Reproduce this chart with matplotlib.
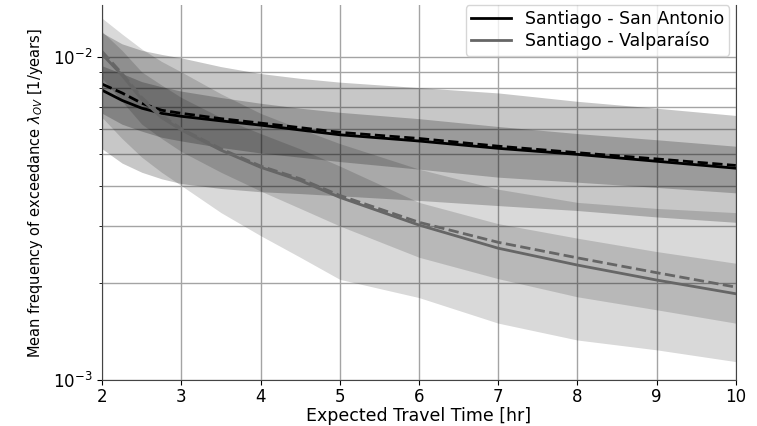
import matplotlib
matplotlib.use('Agg')
import matplotlib.pyplot as plt
import numpy as np

# expected travel time [hr]
t = np.array([2, 2.25, 2.5, 2.75, 3, 3.5, 4, 4.5, 5, 6, 7, 8, 9, 10])

# Santiago - San Antonio (values x 1e-3)
sa_mean = np.array([7.9, 7.35, 6.95, 6.7, 6.56, 6.35, 6.16, 5.95, 5.75, 5.5, 5.22, 5.0, 4.76, 4.53])
sa_dash = np.array([8.25, 7.75, 7.2, 6.85, 6.7, 6.45, 6.25, 6.05, 5.85, 5.6, 5.3, 5.06, 4.84, 4.62])
sa_in_up = np.array([9.4, 8.9, 8.4, 8.1, 7.85, 7.5, 7.2, 6.95, 6.75, 6.45, 6.1, 5.8, 5.55, 5.3])
sa_in_lo = np.array([6.7, 6.2, 5.9, 5.65, 5.5, 5.25, 5.05, 4.9, 4.75, 4.5, 4.25, 4.1, 3.95, 3.8])
sa_out_up = np.array([11.9, 11.0, 10.5, 10.2, 9.95, 9.35, 8.9, 8.6, 8.37, 8.05, 7.75, 7.3, 6.95, 6.6])
sa_out_lo = np.array([5.2, 4.7, 4.4, 4.2, 4.06, 3.92, 3.83, 3.78, 3.72, 3.6, 3.47, 3.35, 3.2, 3.08])

# Santiago - Valparaiso (values x 1e-3)
v_mean = np.array([10.2, 8.8, 7.4, 6.5, 5.95, 5.15, 4.56, 4.15, 3.68, 3.02, 2.56, 2.27, 2.04, 1.85])
v_dash = np.array([10.4, 8.9, 7.5, 6.6, 6.0, 5.2, 4.6, 4.2, 3.73, 3.08, 2.67, 2.39, 2.15, 1.94])
v_in_up = np.array([12.0, 10.5, 9.0, 8.2, 7.5, 6.5, 5.8, 5.2, 4.6, 3.55, 3.05, 2.75, 2.5, 2.3])
v_in_lo = np.array([8.6, 7.3, 6.2, 5.6, 5.1, 4.4, 3.85, 3.4, 3.0, 2.4, 2.06, 1.81, 1.65, 1.5])
v_out_up = np.array([13.2, 11.8, 10.6, 9.7, 9.0, 7.7, 6.7, 6.0, 5.4, 4.5, 3.9, 3.55, 3.4, 3.3])
v_out_lo = np.array([6.5, 5.6, 4.9, 4.4, 4.0, 3.3, 2.8, 2.4, 2.05, 1.8, 1.5, 1.33, 1.24, 1.14])

sc = 1e-3

fig = plt.figure(figsize=(7.57, 4.26), dpi=100)
ax = fig.add_axes([0.135, 0.108, 0.837, 0.88])

ax.fill_between(t, sa_out_lo*sc, sa_out_up*sc, color='k', alpha=0.22, lw=0)
ax.fill_between(t, sa_in_lo*sc, sa_in_up*sc, color='k', alpha=0.22, lw=0)
ax.fill_between(t, v_out_lo*sc, v_out_up*sc, color='k', alpha=0.15, lw=0)
ax.fill_between(t, v_in_lo*sc, v_in_up*sc, color='k', alpha=0.15, lw=0)

ax.plot(t, sa_mean*sc, color='k', lw=2, label='Santiago - San Antonio')
ax.plot(t, sa_dash*sc, color='k', lw=2, ls='--')
ax.plot(t, v_mean*sc, color='#666666', lw=2, label='Santiago - Valparaíso')
ax.plot(t, v_dash*sc, color='#666666', lw=2, ls='--')

ax.set_yscale('log')
ax.set_xlim(2, 10)
ax.set_ylim(1e-3, 1.45e-2)
ax.set_xticks(range(2, 11))
ax.grid(True, which='both', color='#a4a4a4', lw=1)
ax.set_axisbelow(True)
ax.spines['top'].set_visible(False)
for s in ['left', 'bottom', 'right']:
    ax.spines[s].set_color('#444444')
ax.tick_params(labelsize=12)
ax.tick_params(axis='x', pad=2)

ax.set_xlabel('Expected Travel Time [hr]', fontsize=12.5, labelpad=1)
ax.set_ylabel(r'Mean frequency of exceedance $\lambda_{OV}$ [1/years]', fontsize=10.5, labelpad=6)
ax.legend(loc='upper right', fontsize=12.5, borderaxespad=0.0, borderpad=0.3,
          labelspacing=0.2, handlelength=2.3, bbox_to_anchor=(0.99, 1.0))

fig.savefig('out.png', dpi=100)
